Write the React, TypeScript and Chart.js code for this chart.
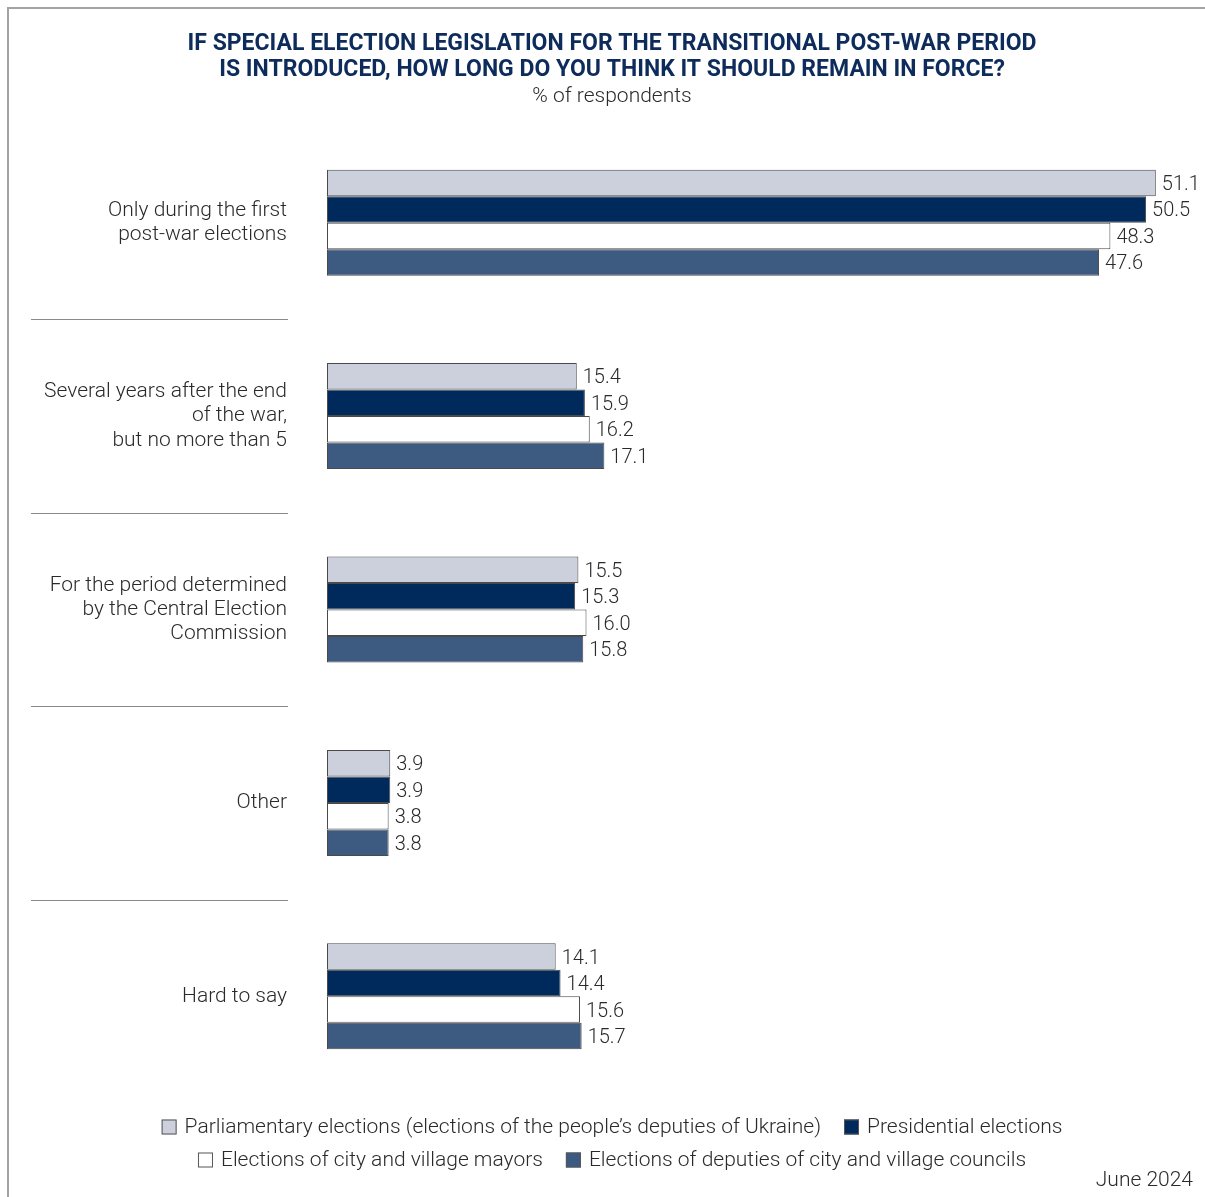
import React, { useEffect, useRef } from "react";
import { Chart, registerables } from "chart.js";

Chart.register(...registerables);

const titleLines = [
  "IF SPECIAL ELECTION LEGISLATION FOR THE TRANSITIONAL POST-WAR PERIOD",
  "IS INTRODUCED, HOW LONG DO YOU THINK IT SHOULD REMAIN IN FORCE?",
];
const subtitle = "% of respondents";
const footnote = "June 2024";

const categories: string[][] = [
  ["Only during the first", "post-war elections"],
  ["Several years after the end", "of the war,", "but no more than 5"],
  ["For the period determined", "by the Central Election", "Commission"],
  ["Other"],
  ["Hard to say"],
];

const seriesNames = [
  "Parliamentary elections (elections of the people\u2019s deputies of Ukraine)",
  "Presidential elections",
  "Elections of city and village mayors",
  "Elections of deputies of city and village councils",
];

const parliamentary = [51.1, 15.4, 15.5, 3.9, 14.1];
const presidential = [50.5, 15.9, 15.3, 3.9, 14.4];
const mayors = [48.3, 16.2, 16.0, 3.8, 15.6];
const councils = [47.6, 17.1, 15.8, 3.8, 15.7];

const seriesValues = [parliamentary, presidential, mayors, councils];
const seriesColors = ["#cbd0dc", "#002a5c", "#ffffff", "#3d5a80"];

const FONT = "'Roboto', 'Open Sans', sans-serif";
const TEXT = "#2a2a2a";

const decorPlugin = {
  id: "decor",
  afterDraw(chart: any) {
    const ctx = chart.ctx as CanvasRenderingContext2D;
    const W = chart.width;
    const H = chart.height;
    ctx.save();

    // frame
    ctx.strokeStyle = "#a3a3a3";
    ctx.lineWidth = 2;
    ctx.beginPath();
    ctx.moveTo(8, H);
    ctx.lineTo(8, 8);
    ctx.lineTo(W, 8);
    ctx.stroke();

    // title
    ctx.fillStyle = "#0d2b5b";
    ctx.textAlign = "center";
    ctx.textBaseline = "middle";
    ctx.font = `bold 23px 'Liberation Sans Narrow', ${FONT}`;
    ctx.fillText(titleLines[0], 612, 44, 862);
    ctx.fillText(titleLines[1], 612, 70, 818);

    ctx.fillStyle = TEXT;
    ctx.font = `300 21px ${FONT}`;
    ctx.fillText(subtitle, 612, 97);

    // separators
    const y = chart.scales.y;
    ctx.strokeStyle = "#8a8a8a";
    ctx.lineWidth = 1;
    for (let i = 0; i < categories.length - 1; i++) {
      const yy = Math.round((y.getPixelForValue(i) + y.getPixelForValue(i + 1)) / 2) + 0.5;
      ctx.beginPath();
      ctx.moveTo(31, yy);
      ctx.lineTo(288, yy);
      ctx.stroke();
    }

    // value labels
    ctx.textAlign = "left";
    ctx.textBaseline = "middle";
    ctx.fillStyle = TEXT;
    ctx.font = `300 20px ${FONT}`;
    chart.data.datasets.forEach((ds: any, di: number) => {
      const meta = chart.getDatasetMeta(di);
      meta.data.forEach((el: any, i: number) => {
        ctx.fillText(Number(ds.data[i]).toFixed(1), el.x + 6, el.y + 2);
      });
    });

    // legend
    const rows = [
      [0, 1],
      [2, 3],
    ];
    const rowY = [1128, 1161];
    const box = 15;
    const boxGap = 8;
    const itemGap = 23;
    ctx.font = `300 21px ${FONT}`;
    rows.forEach((row, r) => {
      const widths = row.map((k) => box + boxGap + ctx.measureText(seriesNames[k]).width);
      const total = widths.reduce((a, b) => a + b, 0) + itemGap * (row.length - 1);
      let x = 612 - total / 2;
      row.forEach((k, j) => {
        ctx.fillStyle = seriesColors[k];
        ctx.fillRect(x, rowY[r] - box / 2 - 1, box, box);
        ctx.strokeStyle = "#555";
        ctx.lineWidth = 1;
        ctx.strokeRect(x + 0.5, rowY[r] - box / 2 - 0.5, box - 1, box - 1);
        ctx.fillStyle = TEXT;
        ctx.fillText(seriesNames[k], x + box + boxGap, rowY[r]);
        x += widths[j] + itemGap;
      });
    });

    ctx.textAlign = "right";
    ctx.fillText(footnote, 1193, 1181);
    ctx.restore();
  },
};

export default function App() {
  const ref = useRef<HTMLCanvasElement | null>(null);

  useEffect(() => {
    document.documentElement.style.overflow = "hidden";
    if (!ref.current) return;
    const chart = new Chart(ref.current, {
      type: "bar",
      data: {
        labels: categories,
        datasets: seriesValues.map((vals, i) => ({
          label: seriesNames[i],
          data: vals,
          backgroundColor: seriesColors[i],
          borderColor: "#4a4a4a",
          borderWidth: 1,
          borderSkipped: false,
          categoryPercentage: 0.548,
          barPercentage: 1,
        })),
      },
      options: {
        indexAxis: "y",
        animation: false,
        responsive: false,
        maintainAspectRatio: false,
        layout: { padding: { top: 126, bottom: 104, left: 0, right: 34.6 } },
        plugins: {
          legend: { display: false },
          title: { display: false },
          tooltip: { enabled: false },
        },
        events: [],
        scales: {
          x: {
            type: "linear",
            min: 0,
            max: 52,
            display: false,
          },
          y: {
            type: "category",
            grid: { display: false, drawTicks: false },
            border: { display: false },
            ticks: {
              padding: 40,
              color: TEXT,
              font: { family: FONT, size: 21, weight: 300, lineHeight: 1.15 },
            },
            afterFit(scale: any) {
              scale.width = 327;
            },
          },
        },
      },
      plugins: [decorPlugin],
    });
    return () => chart.destroy();
  }, []);

  return (
    <div style={{ position: "fixed", left: 0, top: 0, width: 1205, height: 1197, background: "#fff" }}>
      <canvas ref={ref} width={1205} height={1197} style={{ display: "block", width: 1205, height: 1197 }} />
    </div>
  );
}
